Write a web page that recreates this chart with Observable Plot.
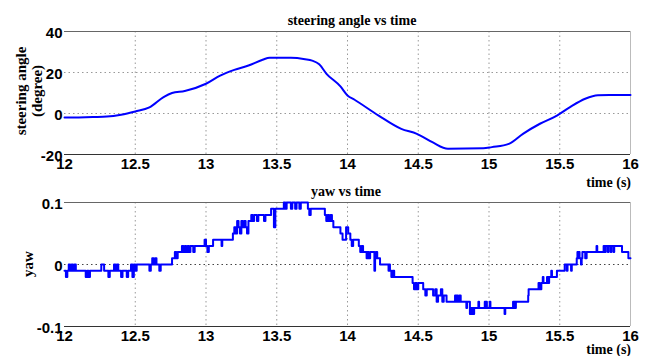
<!DOCTYPE html>
<html><head><meta charset="utf-8">
<script src="https://cdn.jsdelivr.net/npm/d3@7"></script>
<script src="https://cdn.jsdelivr.net/npm/@observablehq/plot@0.6"></script>
<style>
body{margin:0;background:#fff;}
#wrap{position:relative;width:646px;height:356px;overflow:hidden;background:#fff;}
.lbl{position:absolute;font-family:"Liberation Serif","Times New Roman",serif;font-weight:bold;font-size:14px;color:#000;white-space:nowrap;line-height:1;}
.rot{transform:translate(-50%,-50%) rotate(-90deg);font-size:15px;}
svg{position:absolute;left:0;}
</style></head>
<body><div id="wrap"></div>
<script>
const xTicks = [12, 12.5, 13, 13.5, 14, 14.5, 15, 15.5, 16];
const steerTicks = [-20, 0, 20, 40];
const yawTicks = [-0.1, 0, 0.1];

const steerT = [12, 12.1, 12.2, 12.3, 12.4, 12.5, 12.6, 12.7, 12.76, 12.85, 13, 13.1, 13.2, 13.3, 13.4, 13.45, 13.6, 13.7, 13.75, 13.8, 13.85, 13.95, 14.0, 14.05, 14.22, 14.38, 14.49, 14.6, 14.71, 14.96, 15.02, 15.14, 15.24, 15.36, 15.48, 15.57, 15.68, 15.77, 15.85, 16];
const steerV = [-2, -1.9, -1.7, -1.5, -0.6, 1, 3, 8, 10, 11, 14.5, 18.5, 21.3, 23.4, 26.2, 27.2, 27.2, 26.5, 25.8, 24, 19.5, 13.2, 8.8, 6.7, -1, -7.5, -9.9, -14, -17.2, -17, -16.4, -14.8, -9.9, -5, -1, 3, 7.2, 8.9, 9, 9];

const yawT = [12.00,12.01,12.02,12.03,12.04,12.05,12.06,12.07,12.08,12.15,12.16,12.17,12.18,12.26,12.28,12.31,12.32,12.35,12.36,12.37,12.38,12.40,12.41,12.44,12.45,12.47,12.48,12.49,12.50,12.51,12.60,12.61,12.62,12.63,12.64,12.65,12.67,12.68,12.76,12.78,12.79,12.80,12.83,12.84,12.85,12.86,12.87,12.88,12.89,12.91,12.92,12.99,13.00,13.01,13.02,13.05,13.11,13.115,13.19,13.20,13.21,13.22,13.23,13.24,13.25,13.26,13.27,13.28,13.29,13.30,13.32,13.33,13.34,13.36,13.37,13.41,13.42,13.46,13.48,13.49,13.55,13.56,13.57,13.60,13.61,13.63,13.64,13.66,13.67,13.72,13.73,13.74,13.84,13.85,13.86,13.87,13.88,13.89,13.90,13.95,13.965,13.99,14.005,14.02,14.03,14.04,14.08,14.09,14.10,14.11,14.135,14.14,14.15,14.16,14.19,14.195,14.20,14.21,14.23,14.29,14.295,14.30,14.31,14.32,14.33,14.46,14.47,14.48,14.49,14.50,14.535,14.55,14.56,14.605,14.62,14.63,14.64,14.66,14.67,14.68,14.70,14.76,14.765,14.77,14.78,14.79,14.80,14.84,14.845,14.865,14.87,14.875,14.88,14.89,14.895,14.925,14.93,14.97,14.975,14.98,14.985,15.005,15.01,15.11,15.115,15.17,15.175,15.18,15.185,15.19,15.277,15.28,15.35,15.36,15.37,15.38,15.385,15.41,15.42,15.425,15.44,15.445,15.48,15.535,15.55,15.555,15.58,15.585,15.62,15.625,15.63,15.635,15.64,15.65,15.655,15.66,15.68,15.69,15.76,15.765,15.81,15.82,15.825,15.84,15.845,15.86,15.865,15.88,15.885,15.94,15.985,16.00];
const yawV = [-0.01,-0.02,-0.01,0,-0.01,0,-0.01,0,-0.01,-0.02,-0.01,-0.02,-0.01,0,-0.01,-0.02,-0.01,0,-0.01,0,-0.01,-0.02,-0.01,-0.02,-0.01,0,-0.02,0,-0.01,0,-0.01,0,0.01,0,0.01,0,-0.01,0,0.01,0.02,0.01,0.02,0.03,0.02,0.03,0.02,0.03,0.02,0.03,0.02,0.03,0.04,0.03,0.02,0.03,0.04,0.03,0.04,0.05,0.06,0.05,0.07,0.06,0.05,0.07,0.06,0.07,0.06,0.05,0.07,0.08,0.07,0.08,0.07,0.08,0.07,0.08,0.09,0.06,0.09,0.10,0.09,0.10,0.09,0.10,0.09,0.10,0.09,0.10,0.09,0.08,0.09,0.08,0.07,0.08,0.07,0.08,0.07,0.06,0.05,0.04,0.06,0.05,0.04,0.03,0.04,0.03,0.02,0.03,0.02,0.01,0.02,0.01,0.02,-0.01,0.01,0.02,0.01,0,-0.01,0,-0.01,-0.02,-0.01,-0.02,-0.03,-0.04,-0.03,-0.04,-0.03,-0.04,-0.05,-0.04,-0.05,-0.04,-0.06,-0.05,-0.04,-0.06,-0.05,-0.06,-0.05,-0.06,-0.05,-0.06,-0.05,-0.06,-0.07,-0.06,-0.08,-0.07,-0.08,-0.07,-0.08,-0.07,-0.06,-0.07,-0.06,-0.07,-0.06,-0.07,-0.06,-0.07,-0.08,-0.07,-0.06,-0.07,-0.06,-0.07,-0.06,-0.05,-0.04,-0.03,-0.04,-0.03,-0.02,-0.03,-0.02,-0.03,-0.02,-0.01,-0.02,-0.01,0,-0.01,0,-0.01,0,0.01,0.02,0.01,0.02,0.01,0,0.01,0.02,0.01,0.02,0.03,0.02,0.03,0.02,0.03,0.02,0.03,0.02,0.03,0.02,0.03,0.02,0.01,0.01];

const steer = steerT.map((t, i) => ({t, v: steerV[i]}));
const yaw = yawT.map((t, i) => ({t, v: yawV[i]}));

const fmt = d => String(d);
const tickFont = {fontSize: 15, fontWeight: "bold", fontFamily: "Liberation Sans, Arial, sans-serif", fill: "#000"};
const gridV = {stroke: "#999", strokeOpacity: 1, strokeDasharray: "1.5,3", strokeWidth: 1};

function panel(data, yDomain, yTicks, yGrid, yGridColor, curve, mt, mb, h, yDy) {
  return Plot.plot({
    width: 646, height: h,
    marginTop: mt, marginBottom: mb, marginLeft: 64, marginRight: 16,
    style: {background: "transparent", overflow: "visible"},
    x: {domain: [12, 16]},
    y: {domain: yDomain},
    marks: [
      Plot.gridX(xTicks.slice(1, -1), gridV),
      Plot.gridY(yGrid, {...gridV, stroke: yGridColor}),
      Plot.ruleY([yDomain[1]], {stroke: "#666", strokeWidth: 1.2}),
      Plot.ruleY([yDomain[0]], {stroke: "#333", strokeWidth: 1.2}),
      Plot.ruleX([16], {stroke: "#bbb", strokeWidth: 1}),
      Plot.line(data, {x: "t", y: "v", stroke: "#0000ff", strokeWidth: 2, curve}),
      Plot.axisX(xTicks, {tickSize: 0, tickPadding: 4, tickFormat: fmt, label: null, ...tickFont}),
      Plot.axisY(yTicks, {tickSize: 0, tickPadding: 2, tickFormat: fmt, label: null, dy: yDy, ...tickFont})
    ]
  });
}

const wrap = document.getElementById("wrap");
const top1 = panel(steer, [-20, 40], steerTicks, [0, 20], "#999", "monotone-x", 31, 24, 178, 2);
top1.style.top = "0px";
wrap.appendChild(top1);
const bot = panel(yaw, [-0.1, 0.1], yawTicks, [0], "#444", "step-after", 24, 30, 356 - 178, 2);
bot.style.top = "178px";
wrap.appendChild(bot);

function label(text, x, y, cls, anchor) {
  const d = document.createElement("div");
  d.className = "lbl" + (cls ? " " + cls : "");
  d.textContent = text;
  d.style.left = x + "px";
  d.style.top = y + "px";
  if (!cls) d.style.transform = anchor === "end" ? "translate(-100%,-50%)" : "translate(-50%,-50%)";
  wrap.appendChild(d);
}
label("steering angle vs time", 352, 21);
label("yaw vs time", 346, 192);
label("time (s)", 631, 183, null, "end");
label("time (s)", 631, 350, null, "end");
label("steering angle", 21, 91, "rot");
label("(degree)", 37, 91, "rot");
label("yaw", 28, 264, "rot");
</script>
</body></html>
